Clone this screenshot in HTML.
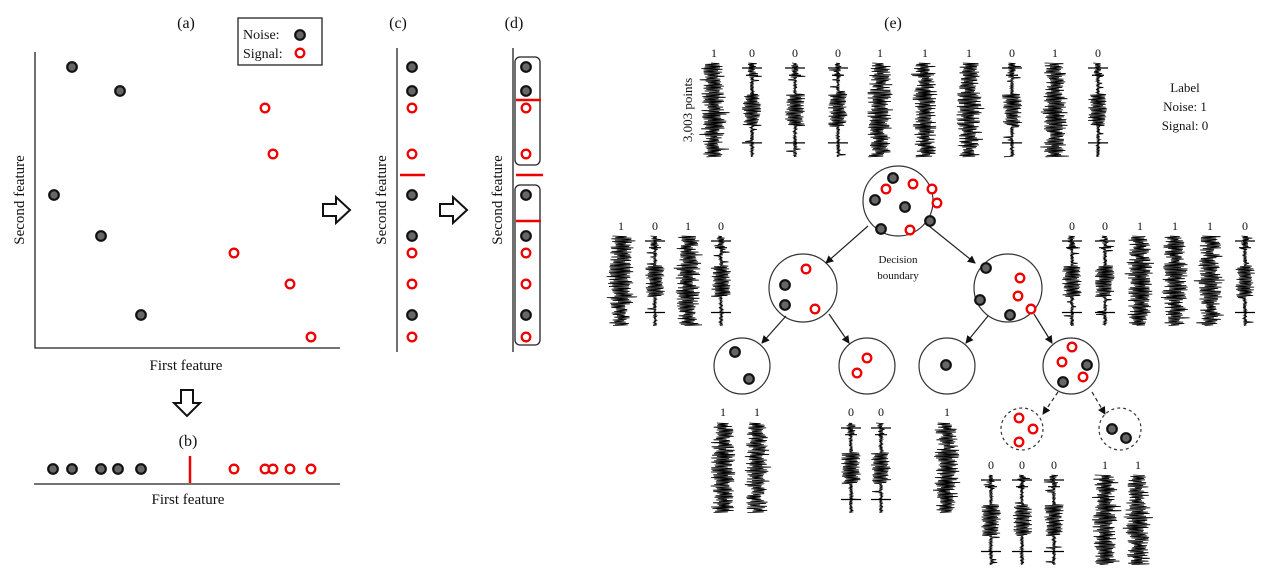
<!DOCTYPE html>
<html><head><meta charset="utf-8"><style>
html,body{margin:0;padding:0;background:#fff;}
svg{display:block;}
text{font-family:"Liberation Serif",serif;fill:#111;}
</style></head><body>
<svg id="s" width="1274" height="578" viewBox="0 0 1274 578" xmlns="http://www.w3.org/2000/svg">
<defs>
<marker id="ah" markerWidth="8" markerHeight="8" refX="7" refY="4" orient="auto" markerUnits="userSpaceOnUse"><path d="M0,0 L8,4 L0,8 Z" fill="#111"/></marker>
</defs>
<g id="lines" stroke="#222" fill="none" stroke-width="1.3">
<path d="M35,52 V348 H340"/>
<path d="M34,484 H340"/>
<path d="M397,48 V352"/>
<path d="M513,48 V352"/>
<rect x="515" y="57" width="25" height="108" rx="5"/>
<rect x="515" y="185" width="25" height="160" rx="5"/>
<rect x="238" y="18" width="84" height="47" fill="#fff"/>
</g>
<g stroke="#e00" stroke-width="2.5">
<path d="M190,456 V483"/>
<path d="M400,175 H425"/>
<path d="M516,100 H541"/>
<path d="M516,175 H543"/>
<path d="M516,221 H541"/>
</g>
<path d="M181,390 H193 V403 H200 L187,416 L174,403 H181 Z" fill="#fff" stroke="#111" stroke-width="2"/>
<path d="M323,204 H336 V197 L350,210 L336,223 V216 H323 Z" fill="#fff" stroke="#111" stroke-width="2"/>
<path d="M440,204 H453 V197 L467,210 L453,223 V216 H440 Z" fill="#fff" stroke="#111" stroke-width="2"/>
<text x="186" y="28" font-size="16" text-anchor="middle">(a)</text>
<text x="398" y="28" font-size="16" text-anchor="middle">(c)</text>
<text x="514" y="28" font-size="16" text-anchor="middle">(d)</text>
<text x="893" y="28" font-size="16" text-anchor="middle">(e)</text>
<text x="188" y="446" font-size="16" text-anchor="middle">(b)</text>
<text x="243" y="39" font-size="14">Noise:</text>
<text x="243" y="58" font-size="14">Signal:</text>
<text x="186" y="370" font-size="15" text-anchor="middle">First feature</text>
<text x="188" y="504" font-size="15" text-anchor="middle">First feature</text>
<text transform="translate(24,200) rotate(-90)" font-size="15" text-anchor="middle">Second feature</text>
<text transform="translate(386,200) rotate(-90)" font-size="15" text-anchor="middle">Second feature</text>
<text transform="translate(502,200) rotate(-90)" font-size="15" text-anchor="middle">Second feature</text>
<text transform="translate(692,110) rotate(-90)" font-size="13" text-anchor="middle">3,003 points</text>
<text x="1185" y="92" font-size="13" text-anchor="middle">Label</text>
<text x="1185" y="111" font-size="13" text-anchor="middle">Noise: 1</text>
<text x="1185" y="130" font-size="13" text-anchor="middle">Signal: 0</text>
<text x="898" y="263" font-size="11" text-anchor="middle">Decision</text>
<text x="898" y="279" font-size="11" text-anchor="middle">boundary</text>
<g fill="#fff" stroke="#333" stroke-width="1.2">
<circle cx="898" cy="201" r="35"/>
<circle cx="803" cy="288" r="34"/>
<circle cx="1008" cy="288" r="34"/>
<circle cx="742" cy="366" r="28"/>
<circle cx="867" cy="366" r="28"/>
<circle cx="947" cy="366" r="28"/>
<circle cx="1071" cy="366" r="28"/>
<circle cx="1022" cy="429" r="21" stroke-dasharray="3,3"/>
<circle cx="1120" cy="429" r="21" stroke-dasharray="3,3"/>
</g>
<g stroke="#222" stroke-width="1.2" marker-end="url(#ah)">
<path d="M868,226 L826,263"/>
<path d="M929,226 L975,263"/>
<path d="M786,316 L762,343"/>
<path d="M829,314 L849,343"/>
<path d="M988,316 L966,343"/>
<path d="M1034,314 L1052,343"/>
<path d="M1058,392 L1043,414" stroke-dasharray="4,3"/>
<path d="M1092,392 L1105,414" stroke-dasharray="4,3"/>
</g>
<g id="dots"></g>
<g id="waves" stroke="#000" stroke-width="0.8" fill="none"></g>
<g id="labs" font-size="12"></g>
</svg>
<script>
var NS="http://www.w3.org/2000/svg";
var dots=document.getElementById('dots'),waves=document.getElementById('waves'),labs=document.getElementById('labs');
function dot(x,y,sig){var c=document.createElementNS(NS,'circle');c.setAttribute('cx',x);c.setAttribute('cy',y);
 if(sig){c.setAttribute('r',4.3);c.setAttribute('fill','#fff');c.setAttribute('stroke','#e00');c.setAttribute('stroke-width',2.3);}
 else{c.setAttribute('r',4.8);c.setAttribute('fill','#666');c.setAttribute('stroke','#111');c.setAttribute('stroke-width',2.2);}
 dots.appendChild(c);}
var N=[[72,67],[120,91],[54,195],[101,236],[141,315]],S=[[265,108],[273,154],[234,253],[290,284],[311,337]];
N.forEach(function(p){dot(p[0],p[1],0);dot(412,p[1],0);dot(526,p[1],0);});
S.forEach(function(p){dot(p[0],p[1],1);dot(412,p[1],1);dot(526,p[1],1);});
dot(300,35,0);dot(300,53,1);
[53,72,101,118,141].forEach(function(x){dot(x,469,0);});
[234,265,273,290,311].forEach(function(x){dot(x,469,1);});
[[893,178],[875,200],[905,207],[930,221],[881,229]].forEach(function(p){dot(p[0],p[1],0);});
[[913,184],[932,189],[937,203],[886,189],[910,230]].forEach(function(p){dot(p[0],p[1],1);});
dot(785,285,0);dot(785,305,0);dot(806,269,1);dot(815,309,1);
dot(986,268,0);dot(980,300,0);dot(1010,315,0);dot(1020,278,1);dot(1018,296,1);dot(1031,309,1);
dot(735,352,0);dot(749,379,0);dot(867,358,1);dot(857,373,1);dot(946,365,0);
dot(1072,347,1);dot(1062,362,1);dot(1083,377,1);dot(1087,365,0);dot(1063,382,0);
dot(1019,418,1);dot(1033,429,1);dot(1019,442,1);dot(1112,429,0);dot(1126,438,0);
var seed=7;function r(){seed=(seed*16807)%2147483647;return seed/2147483647;}
function wave(cx,y0,y1,t){var h=y1-y0,d='',i=0;
 for(var y=y0;y<=y1;y+=0.7,i++){var f=(y-y0)/h,a;
  if(t==1){a=3+8*r();if(r()<0.08)a+=4;if(f>0.3&&f<0.7)a+=1.5;}
  else{ if(f>0.33&&f<0.67)a=5+5*r(); else {a=0.5+1.5*r(); if(r()<0.05)a=4+5*r(); if(f<0.15)a+=3*r();}}
  var x=cx+(i%2?1:-1)*a;d+=(i?'L':'M')+x.toFixed(1)+','+y.toFixed(1);}
 var p=document.createElementNS(NS,'path');p.setAttribute('d',d);waves.appendChild(p);
 if(t==0){var tk=document.createElementNS(NS,'path');var ya=y0+5,yb=y0+0.85*h;
  tk.setAttribute('d','M'+(cx-10)+','+ya+'H'+(cx+10)+'M'+(cx-10)+','+yb+'H'+(cx+10)+'M'+(cx-6)+','+(y0+h*0.13)+'H'+(cx+6));tk.setAttribute('stroke-width','1.2');waves.appendChild(tk);}
}
function lab(x,y,s){var t=document.createElementNS(NS,'text');t.setAttribute('x',x);t.setAttribute('y',y);t.setAttribute('text-anchor','middle');t.textContent=s;labs.appendChild(t);}
function row(xs,ls,ly,y0,y1){xs.forEach(function(x,k){lab(x,ly,ls[k]);wave(x,y0,y1,+ls[k]);});}
row([714,752,795,838,880,925,969,1012,1055,1098],['1','0','0','0','1','1','1','0','1','0'],57,63,157);
row([621,655,688,721],['1','0','1','0'],230,236,326);
row([1072,1105,1140,1175,1210,1245],['0','0','1','1','1','0'],230,236,326);
row([723,757],['1','1'],416,423,513);
row([851,881],['0','0'],416,423,513);
row([947],['1'],416,423,513);
row([991,1022,1054],['0','0','0'],469,475,565);
row([1105,1138],['1','1'],469,475,565);
</script>
</body></html>
